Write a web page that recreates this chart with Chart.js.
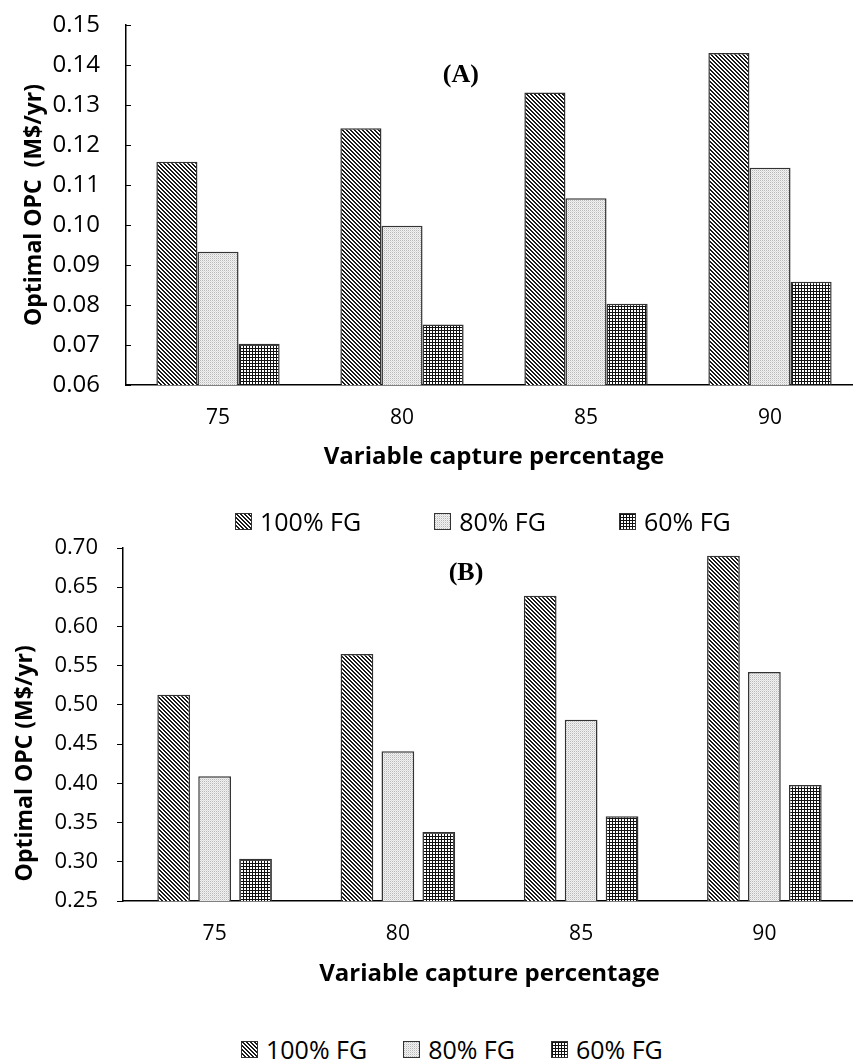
<!DOCTYPE html>
<html>
<head>
<meta charset="utf-8">
<script src="https://cdn.jsdelivr.net/npm/chart.js@4.4.1/dist/chart.umd.min.js"></script>
<style>
  html, body { margin: 0; padding: 0; background: #fff; overflow: hidden; }
  #wrap { position: relative; width: 853px; height: 1060px; overflow: hidden; }
  .box { position: absolute; left: 0; width: 870px; }
  #boxA { top: 0; height: 490px; }
  #boxB { top: 515px; height: 495px; }
  .legend { position: absolute; display: flex; align-items: center; font-family: "Open Sans", sans-serif; font-size: 25px; line-height: 1; color: #000; }
  .legend .item { display: flex; align-items: center; }
  .legend canvas { width: 17px; height: 17px; margin-right: 8px; box-sizing: border-box; border: 1px solid #333; }
  #legendA { left: 235px; top: 509px; }
  #legendA .item + .item { margin-left: 73px; }
  #legendB { left: 241px; top: 1037px; }
  #legendB .item + .item { margin-left: 36px; }
</style>
</head>
<body>
<div id="wrap">
  <div class="box" id="boxA"><canvas id="chartA"></canvas></div>
  <div class="box" id="boxB"><canvas id="chartB"></canvas></div>
  <div class="legend" id="legendA"></div>
  <div class="legend" id="legendB"></div>
</div>
<script>
// capture percentage categories
const categories = ['75', '80', '85', '90'];
const seriesNames = ['100% FG', '80% FG', '60% FG'];

// (A) optimal OPC, M$/yr
const opcA100 = [0.1158, 0.1242, 0.1331, 0.1430];
const opcA80 = [0.0933, 0.0998, 0.1067, 0.1143];
const opcA60 = [0.0703, 0.0751, 0.0803, 0.0858];

// (B) optimal OPC, M$/yr
const opcB100 = [0.513, 0.565, 0.639, 0.690];
const opcB80 = [0.409, 0.441, 0.481, 0.542];
const opcB60 = [0.304, 0.338, 0.358, 0.398];

const yTicksA = [0.06, 0.15, 0.01];
const yTicksB = [0.25, 0.70, 0.05];

// pixel patterns like the old excel fills
function tile(size, draw) {
  const c = document.createElement('canvas');
  c.width = size; c.height = size;
  const g = c.getContext('2d');
  draw(g);
  return c;
}
const tileStripes = tile(4, g => {
  g.fillStyle = '#fff'; g.fillRect(0, 0, 4, 4);
  g.fillStyle = '#1a1a1a';
  for (let y = 0; y < 4; y++) for (let x = 0; x < 4; x++) {
    const d = ((x - y) % 4 + 4) % 4;
    if (d === 0 || d === 1) g.fillRect(x, y, 1, 1);
  }
});
const tileDots = tile(2, g => {
  g.fillStyle = '#f2f2f2'; g.fillRect(0, 0, 2, 2);
  g.fillStyle = '#b8b8b8'; g.fillRect(0, 0, 1, 1);
  g.fillStyle = '#dcdcdc'; g.fillRect(1, 1, 1, 1);
});
const tileGrid = tile(3, g => {
  g.fillStyle = '#fff'; g.fillRect(0, 0, 3, 3);
  g.fillStyle = '#111';
  g.fillRect(0, 0, 3, 1);
  g.fillRect(0, 0, 1, 3);
});
const tiles = [tileStripes, tileDots, tileGrid];

function pattern(ctx, t) { return ctx.createPattern(t, 'repeat'); }

// chart A has its tick marks pointing into the plot
const insideTicks = {
  id: 'insideTicks',
  afterDatasetsDraw(chart, args, opts) {
    if (!opts.length) return;
    const y = chart.scales.y, ctx = chart.ctx;
    ctx.save();
    ctx.strokeStyle = '#000';
    ctx.lineWidth = 1;
    y.ticks.forEach(t => {
      const py = Math.round(y.getPixelForValue(t.value)) + 0.5;
      ctx.beginPath();
      ctx.moveTo(y.right, py);
      ctx.lineTo(y.right + opts.length, py);
      ctx.stroke();
    });
    ctx.restore();
  }
};

const panelLabel = {
  id: 'panelLabel',
  afterDraw(chart, args, opts) {
    const a = chart.chartArea, ctx = chart.ctx;
    ctx.save();
    ctx.font = 'bold 26px "Liberation Serif"';
    ctx.fillStyle = '#000';
    ctx.textAlign = 'center';
    ctx.textBaseline = 'middle';
    ctx.fillText(opts.text, a.left + a.width * opts.fx, a.top + opts.dy);
    ctx.restore();
  }
};

function makeChart(id, series, o) {
  const ctx = document.getElementById(id).getContext('2d');
  return new Chart(ctx, {
    type: 'bar',
    data: {
      labels: categories,
      datasets: series.map((d, i) => ({
        label: seriesNames[i],
        data: d,
        backgroundColor: pattern(ctx, tiles[i]),
        borderColor: '#333',
        borderWidth: 1.5,
        barPercentage: o.barPct,
        categoryPercentage: 0.67
      }))
    },
    plugins: [insideTicks, panelLabel],
    options: {
      responsive: true,
      maintainAspectRatio: false,
      animation: false,
      layout: { padding: { top: o.top, right: o.right, left: 0, bottom: 0 } },
      plugins: {
        legend: { display: false },
        tooltip: { enabled: false },
        insideTicks: { length: o.inside },
        panelLabel: { text: o.panel, fx: o.panelX, dy: o.panelY }
      },
      scales: {
        x: {
          afterFit: s => { s.height = o.xHeight; },
          grid: { display: false, drawTicks: false },
          border: { display: true, color: '#000', width: 1.5 },
          ticks: { color: '#000', padding: 20, font: { family: 'Open Sans', size: 21 } },
          title: {
            display: true, text: 'Variable capture percentage', color: '#000',
            font: { family: 'Open Sans', size: 24, weight: 'bold' },
            padding: { top: 0, bottom: o.xTitlePad }
          }
        },
        y: {
          min: o.yTicks[0], max: o.yTicks[1],
          afterFit: s => { s.width = o.yWidth; },
          grid: { display: true, drawOnChartArea: false, drawTicks: true, tickLength: o.tickLen, tickColor: o.tickColor },
          border: { display: true, color: '#000', width: 1.5 },
          ticks: {
            stepSize: o.yTicks[2], color: '#000', padding: o.yPad,
            font: { family: 'Open Sans', size: o.yFont },
            callback: v => v.toFixed(2)
          },
          title: {
            display: true, text: o.yTitle, color: '#000',
            font: { family: 'Open Sans', size: 23, weight: 'bold' },
            padding: { top: o.yTitlePad, bottom: 0 }
          }
        }
      }
    }
  });
}

makeChart('chartA', [opcA100, opcA80, opcA60], {
  barPct: 1.0, top: 25, right: 8, xHeight: 105, xTitlePad: 18,
  yTicks: yTicksA, yWidth: 126, yPad: 4, yFont: 24,
  tickLen: 22, tickColor: 'rgba(0,0,0,0)', inside: 5,
  yTitle: 'Optimal OPC  (M$/yr)', yTitlePad: 21,
  panel: '(A)', panelX: 0.455, panelY: 50
});

makeChart('chartB', [opcB100, opcB80, opcB60], {
  barPct: 0.8, top: 33, right: 14, xHeight: 109, xTitlePad: 21,
  yTicks: yTicksB, yWidth: 123, yPad: 19, yFont: 22,
  tickLen: 6, tickColor: '#000', inside: 0,
  yTitle: 'Optimal OPC (M$/yr)' + '\u00a0'.repeat(13), yTitlePad: 12,
  panel: '(B)', panelX: 0.468, panelY: 25
});

// html legends using the same fills
function buildLegend(elId) {
  const el = document.getElementById(elId);
  seriesNames.forEach((name, i) => {
    const item = document.createElement('div');
    item.className = 'item';
    const sw = document.createElement('canvas');
    sw.width = 15; sw.height = 15;
    const g = sw.getContext('2d');
    g.fillStyle = g.createPattern(tiles[i], 'repeat');
    g.fillRect(0, 0, 15, 15);
    const txt = document.createElement('span');
    txt.textContent = name;
    item.appendChild(sw);
    item.appendChild(txt);
    el.appendChild(item);
  });
}
buildLegend('legendA');
buildLegend('legendB');
</script>
</body>
</html>
